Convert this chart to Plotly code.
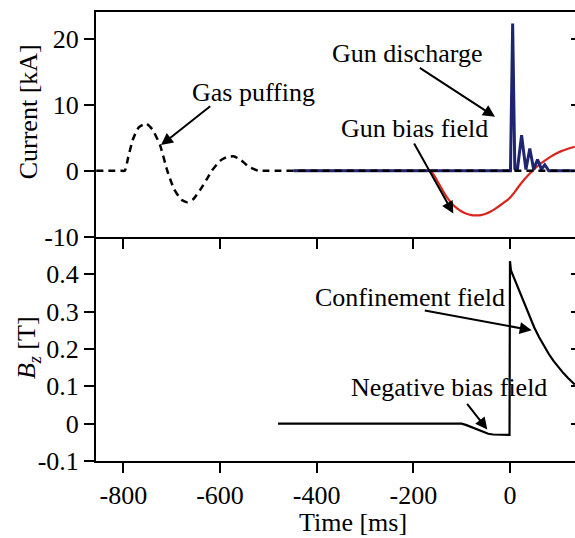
import plotly.graph_objects as go

# ---------------- data ----------------
gas_t = [-856, -830, -805, -797, -790, -780, -768, -753, -740, -724, -709, -695, -680,
         -667, -655, -640, -625, -617, -600, -585, -572, -558, -540, -521, -505, -480,
         -300, 134]
gas_i = [0, 0, 0, 0, 2.0, 4.8, 6.6, 7.2, 6.3, 3.9, 0.0, -2.8, -4.4,
         -4.8, -4.3, -2.8, -1.0, 0.0, 1.5, 2.1, 2.2, 1.7, 0.6, 0.0, 0, 0,
         0, 0]

gun_t = [-448, 0, 1, 5.5, 10, 15, 20, 24, 28, 33, 37, 41, 45, 49, 53, 57, 61, 65,
         68, 72, 76, 80, 134]
gun_i = [0, 0, 0, 22.4, 0.3, 0, 3.0, 5.4, 3.0, 0.2, 1.8, 3.4, 1.8, 0.2, 1.0, 1.7,
         1.0, 0.2, 0.5, 0.9, 0.5, 0, 0]

bias_t = [-448, -300, -200, -175, -165, -158, -150, -140, -130, -120, -110, -100,
          -90, -80, -70, -60, -50, -40, -30, -20, -10, 0, 10, 20, 30, 40, 50, 60,
          75, 90, 105, 120, 134]
bias_i = [0, 0, 0, 0, 0, -0.6, -1.6, -2.9, -4.1, -5.0, -5.7, -6.2,
          -6.55, -6.75, -6.8, -6.75, -6.55, -6.2, -5.75, -5.25, -4.7, -4.1, -3.2,
          -2.2, -1.3, -0.5, 0.25, 0.9, 1.7, 2.4, 2.95, 3.35, 3.65]

bz_t = [-480, -100, -90, -75, -60, -45, -35, -1, 0, 2, 10, 20, 30, 40, 50, 60, 70,
        80, 90, 100, 110, 120, 134]
bz_v = [0, 0, -0.004, -0.012, -0.021, -0.027, -0.029, -0.03, 0.435, 0.41, 0.385,
        0.352, 0.32, 0.288, 0.258, 0.232, 0.208, 0.187, 0.168, 0.151, 0.136, 0.122,
        0.105]

x_ticks = [-800, -600, -400, -200, 0]
x_ticktext = ["-800", "-600", "-400", "-200", "0"]
cur_ticks = [-10, 0, 10, 20]
cur_ticktext = ["-10", "0", "10", "20"]
bz_ticks = [-0.1, 0, 0.1, 0.2, 0.3, 0.4]
bz_ticktext = ["-0.1", "0", "0.1", "0.2", "0.3", "0.4"]

x_range = [-856.5, 134.5]
cur_range = [-10, 24.15]
bz_range = [-0.1, 0.501]

FONT = "Liberation Serif"
NAVY = "#1f2470"
RED = "#d9261c"

fig = go.Figure()
fig.add_trace(go.Scatter(x=bias_t, y=bias_i, mode="lines", xaxis="x", yaxis="y",
                         line=dict(color=RED, width=2.2, shape="spline", smoothing=0.5),
                         showlegend=False))
fig.add_trace(go.Scatter(x=gun_t, y=gun_i, mode="lines", xaxis="x", yaxis="y",
                         line=dict(color=NAVY, width=3), showlegend=False))
fig.add_trace(go.Scatter(x=gas_t, y=gas_i, mode="lines", xaxis="x", yaxis="y",
                         line=dict(color="black", width=2.5, dash="7px,5px",
                                   shape="spline", smoothing=0.5),
                         showlegend=False))
fig.add_trace(go.Scatter(x=bz_t, y=bz_v, mode="lines", xaxis="x2", yaxis="y2",
                         line=dict(color="black", width=2.2), showlegend=False))
# empty helper traces so the right-hand tick axes are drawn
fig.add_trace(go.Scatter(x=[None], y=[None], xaxis="x", yaxis="y3",
                         showlegend=False, hoverinfo="skip"))
fig.add_trace(go.Scatter(x=[None], y=[None], xaxis="x2", yaxis="y4",
                         showlegend=False, hoverinfo="skip"))

axis_common = dict(showgrid=False, zeroline=False, showline=True, linewidth=2,
                   linecolor="black", ticks="outside", ticklen=10, tickwidth=2,
                   tickcolor="black")
right_common = dict(side="right", showticklabels=False, showgrid=False,
                    zeroline=False, showline=False, ticks="inside", ticklen=4,
                    tickwidth=2, tickcolor="black")

fig.update_layout(
    width=575, height=538,
    margin=dict(l=96, r=0, t=12, b=77),
    paper_bgcolor="white", plot_bgcolor="white",
    font=dict(family=FONT, size=26, color="black"),
    xaxis=dict(domain=[0, 1], anchor="y", range=x_range, mirror=True,
               tickvals=x_ticks, ticktext=x_ticktext, showticklabels=False,
               **axis_common),
    yaxis=dict(domain=[0.5, 1], anchor="x", range=cur_range,
               tickvals=cur_ticks, ticktext=cur_ticktext, **axis_common),
    xaxis2=dict(domain=[0, 1], anchor="y2", range=x_range, matches="x",
                tickvals=x_ticks, ticktext=x_ticktext, **axis_common),
    yaxis2=dict(domain=[0, 0.5], anchor="x2", range=bz_range,
                tickvals=bz_ticks, ticktext=bz_ticktext, **axis_common),
    yaxis3=dict(overlaying="y", anchor="x", range=cur_range, tickvals=cur_ticks,
                **right_common),
    yaxis4=dict(overlaying="y2", anchor="x2", range=bz_range, tickvals=bz_ticks,
                **right_common),
)

# arrows (empty text) and labels
arrows = [
    ("x", "y", -722, 3.9, 50.7, -40),
    ("x", "y", -31, 8.2, -76.7, -50),
    ("x", "y", -117.3, -6.5, -40, -71.6),
    ("x2", "y2", 44.9, 0.25, -108.4, -20),
    ("x2", "y2", -47, -0.016, -21.3, -27.3),
]
for xr, yr, hx, hy, ax, ay in arrows:
    fig.add_annotation(xref=xr, yref=yr, x=hx, y=hy, ax=ax, ay=ay, text="",
                       showarrow=True, arrowhead=2, arrowsize=1.2, arrowwidth=2,
                       arrowcolor="black", standoff=0, startstandoff=0)

labels = [
    ("x", "y", -531, 11.95, "Gas puffing"),
    ("x", "y", -213, 17.8, "Gun discharge"),
    ("x", "y", -197, 6.5, "Gun bias field"),
    ("x2", "y2", -207, 0.338, "Confinement field"),
    ("x2", "y2", -127, 0.097, "Negative bias field"),
]
for xr, yr, tx, ty, txt in labels:
    fig.add_annotation(xref=xr, yref=yr, x=tx, y=ty, text=txt, showarrow=False,
                       xanchor="center", yanchor="middle",
                       font=dict(family=FONT, size=26, color="black"))

# axis titles
fig.add_annotation(xref="paper", yref="paper", x=-0.1403, y=0.7784,
                   text="Current [kA]", textangle=-90, showarrow=False,
                   xanchor="center", yanchor="middle")
fig.add_annotation(xref="paper", yref="paper", x=-0.1403, y=0.2532,
                   text="<i>B</i><sub><i>z</i></sub> [T]", textangle=-90,
                   showarrow=False, xanchor="center", yanchor="middle")
fig.add_annotation(xref="paper", yref="paper", x=0.5355, y=-0.1359,
                   text="Time [ms]", showarrow=False,
                   xanchor="center", yanchor="middle")

fig.write_html("out.html")
